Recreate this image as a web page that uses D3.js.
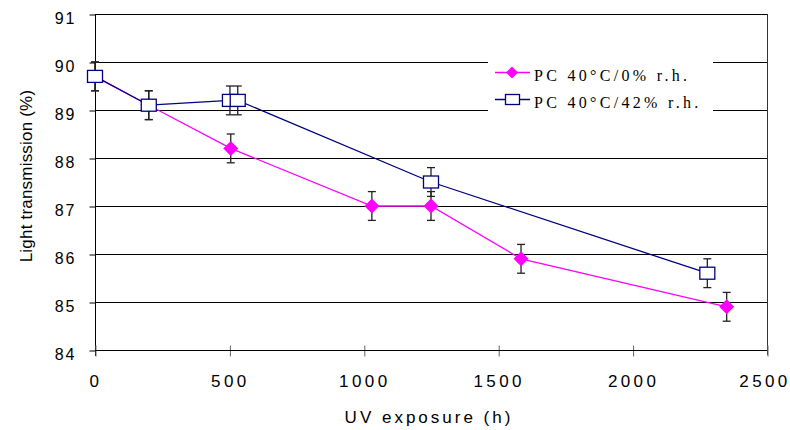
<!DOCTYPE html>
<html><head><meta charset="utf-8">
<script src="https://cdn.jsdelivr.net/npm/d3@7"></script>
<style>body{margin:0;background:#fff;} svg{display:block;}</style>
</head><body>
<svg id="chart" width="790" height="430"></svg>
<script>
// ---- data ----
const seriesNames = ["PC 40°C/0% r.h.", "PC 40°C/42% r.h."];
const pinkX = [0, 200, 505, 1030, 1250, 1585, 2350];
const pinkY = [89.7, 89.1, 88.2, 87.0, 87.0, 85.9, 84.9];
const pinkErr = [0.3, 0.3, 0.3, 0.3, 0.3, 0.3, 0.3];
const blueX = [0, 200, 502, 531, 1250, 2278];
const blueY = [89.7, 89.1, 89.2, 89.2, 87.5, 85.6];
const blueErr = [0.3, 0.3, 0.3, 0.3, 0.3, 0.3];
const xTicks = [0, 500, 1000, 1500, 2000, 2500];
const yTicks = [84, 85, 86, 87, 88, 89, 90, 91];
const xLabel = "UV exposure (h)";
const yLabel = "Light transmission (%)";

const svg = d3.select("#chart");
const mLeft = 95, mRight = 767, mTop = 14, mBottom = 350;
const x = d3.scaleLinear().domain([0, 2500]).range([mLeft, mRight]);
const y = d3.scaleLinear().domain([84, 91]).range([mBottom, mTop]);

// gridlines
svg.append("g").selectAll("line").data(yTicks).join("line")
  .attr("x1", mLeft).attr("x2", mRight)
  .attr("y1", d => y(d) + 0.5).attr("y2", d => y(d) + 0.5)
  .attr("stroke", "#000").attr("stroke-width", 1);

// right border
svg.append("line").attr("x1", mRight + 0.5).attr("x2", mRight + 0.5)
  .attr("y1", mTop).attr("y2", mBottom + 5).attr("stroke", "#333");

// y axis
const yAxis = d3.axisLeft(y).tickValues(yTicks).tickSize(6).tickFormat(d3.format("d"));
const gy = svg.append("g").attr("transform", `translate(${mLeft + 0.5},0.5)`).call(yAxis);
gy.select(".domain").remove();
gy.selectAll(".tick line").attr("stroke", "#000");
gy.selectAll(".tick text").attr("x", -19).attr("dy", "0.55em")
  .style("font-family", "Liberation Sans, Arial, sans-serif").style("font-size", "16px")
  .style("letter-spacing", "2px").attr("fill", "#000");
svg.append("line").attr("x1", mLeft + 0.5).attr("x2", mLeft + 0.5).attr("y1", mTop).attr("y2", mBottom + 6).attr("stroke", "#000");

// x axis
const xAxis = d3.axisBottom(x).tickValues(xTicks).tickSize(6).tickFormat(d3.format("d"));
const gx = svg.append("g").attr("transform", `translate(0.5,${mBottom + 0.5})`).call(xAxis);
gx.select(".domain").remove();
gx.selectAll(".tick line").attr("y1", -5).attr("y2", 6).attr("stroke", "#666");
gx.selectAll(".tick text").attr("y", 27).attr("dy", "0.55em")
  .attr("dx", (d, i, n) => i === n.length - 1 ? -3 : 0)
  .style("font-family", "Liberation Sans, Arial, sans-serif").style("font-size", "17px")
  .style("letter-spacing", "3.4px").attr("fill", "#000");
svg.append("line").attr("x1", mLeft).attr("x2", mRight).attr("y1", mBottom + 0.5).attr("y2", mBottom + 0.5).attr("stroke", "#000");

// axis titles
svg.append("text").attr("x", 429).attr("y", 423).attr("text-anchor", "middle")
  .style("font-family", "Liberation Sans, Arial, sans-serif").style("font-size", "17px")
  .style("letter-spacing", "3px").text(xLabel);
svg.append("text").attr("transform", "translate(32,176) rotate(-90)").attr("text-anchor", "middle")
  .style("font-family", "Liberation Sans, Arial, sans-serif").style("font-size", "17px")
  .style("letter-spacing", "0.2px").text(yLabel);

const pink = pinkX.map((d, i) => ({x: d, y: pinkY[i], e: pinkErr[i]}));
const blue = blueX.map((d, i) => ({x: d, y: blueY[i], e: blueErr[i]}));
const line = d3.line().x(d => x(d.x)).y(d => y(d.y));

function errBars(data) {
  const g = svg.append("g").attr("stroke", "#222").attr("stroke-width", 1.3);
  g.selectAll(".v").data(data).join("line")
    .attr("x1", d => x(d.x)).attr("x2", d => x(d.x))
    .attr("y1", d => y(d.y + d.e)).attr("y2", d => y(d.y - d.e));
  g.selectAll(".t").data(data).join("line")
    .attr("x1", d => x(d.x) - 4).attr("x2", d => x(d.x) + 4)
    .attr("y1", d => y(d.y + d.e)).attr("y2", d => y(d.y + d.e));
  g.selectAll(".b").data(data).join("line")
    .attr("x1", d => x(d.x) - 4).attr("x2", d => x(d.x) + 4)
    .attr("y1", d => y(d.y - d.e)).attr("y2", d => y(d.y - d.e));
}

// pink series
errBars(pink);
svg.append("path").datum(pink).attr("d", line).attr("fill", "none").attr("stroke", "#FF00FF").attr("stroke-width", 1.3);
const diamond = "M0,-7.5L7.5,0L0,7.5L-7.5,0Z";
svg.append("g").selectAll("path").data(pink).join("path")
  .attr("transform", d => `translate(${x(d.x)},${y(d.y)})`)
  .attr("d", diamond).attr("fill", "#FF00FF");

// blue series
errBars(blue);
svg.append("path").datum(blue).attr("d", line).attr("fill", "none").attr("stroke", "#000080").attr("stroke-width", 1.3);
svg.append("g").selectAll("rect").data(blue).join("rect")
  .attr("x", d => x(d.x) - 7.5).attr("y", d => y(d.y) - 6)
  .attr("width", 15).attr("height", 12)
  .attr("fill", "#fff").attr("stroke", "#000080").attr("stroke-width", 1.3);

// legend
const lg = svg.append("g");
lg.append("rect").attr("x", 488).attr("y", 52).attr("width", 225).attr("height", 64).attr("fill", "#fff");
const rows = [{n: seriesNames[0], c: "#FF00FF", t: "d", yy: 72.5}, {n: seriesNames[1], c: "#000080", t: "s", yy: 99.5}];
rows.forEach(r => {
  lg.append("line").attr("x1", 495).attr("x2", 530).attr("y1", r.yy).attr("y2", r.yy).attr("stroke", r.c).attr("stroke-width", 1.3);
  if (r.t === "d") lg.append("path").attr("transform", `translate(512,${r.yy})`).attr("d", "M0,-6L6,0L0,6L-6,0Z").attr("fill", r.c);
  else lg.append("rect").attr("x", 505.5).attr("y", r.yy - 5).attr("width", 14).attr("height", 10).attr("fill", "#fff").attr("stroke", r.c).attr("stroke-width", 1.3);
  lg.append("text").attr("x", 534).attr("y", r.yy + 8.5)
    .style("font-family", "Liberation Serif, Times New Roman, serif").style("font-size", "16px")
    .style("letter-spacing", "3.3px").text(r.n);
});
</script>
</body></html>
